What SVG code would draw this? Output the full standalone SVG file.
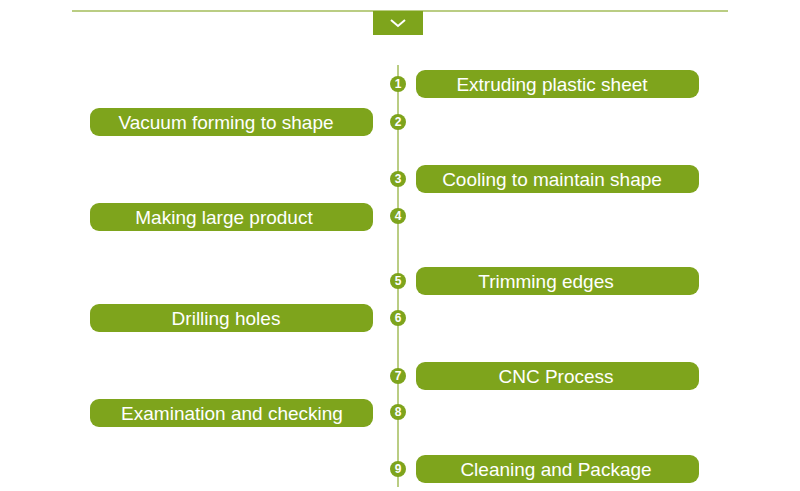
<svg xmlns="http://www.w3.org/2000/svg" width="800" height="491" viewBox="0 0 800 491">
<style>
.p{fill:#7ea41c}
.t{fill:#fff;font-family:"Liberation Sans",Arial,sans-serif;font-size:19px;text-anchor:middle}
.n{fill:#fff;font-family:"Liberation Sans",Arial,sans-serif;font-size:12px;font-weight:bold;text-anchor:middle}
.l{stroke:#a3bd5a;stroke-width:1.5;fill:none}
</style>
<rect width="800" height="491" fill="#fff"/>
<g id="connectors">
<line class="l" x1="72" y1="11" x2="728" y2="11"/>
<line class="l" x1="398" y1="65" x2="398" y2="487"/>
</g>
<g id="toggle"><rect x="373" y="11" width="50" height="24" class="p"/><path d="M391 20 L398 26 L405 20" stroke="#fff" stroke-width="2" fill="none"/></g>
<g id="s1"><circle cx="398" cy="84" r="8" class="p"/><text class="n" x="398" y="88">1</text><rect x="416" y="70" width="283" height="28" rx="9" class="p"/><text class="t" x="552" y="91">Extruding plastic sheet</text></g>
<g id="s2"><circle cx="398" cy="122" r="8" class="p"/><text class="n" x="398" y="126">2</text><rect x="90" y="108" width="283" height="28" rx="9" class="p"/><text class="t" x="226" y="129">Vacuum forming to shape</text></g>
<g id="s3"><circle cx="398" cy="179" r="8" class="p"/><text class="n" x="398" y="183">3</text><rect x="416" y="165" width="283" height="28" rx="9" class="p"/><text class="t" x="552" y="186">Cooling to maintain shape</text></g>
<g id="s4"><circle cx="398" cy="216" r="8" class="p"/><text class="n" x="398" y="220">4</text><rect x="90" y="203" width="283" height="28" rx="9" class="p"/><text class="t" x="224" y="224">Making large product</text></g>
<g id="s5"><circle cx="398" cy="281" r="8" class="p"/><text class="n" x="398" y="285">5</text><rect x="416" y="267" width="283" height="28" rx="9" class="p"/><text class="t" x="546" y="288">Trimming edges</text></g>
<g id="s6"><circle cx="398" cy="318" r="8" class="p"/><text class="n" x="398" y="322">6</text><rect x="90" y="304" width="283" height="28" rx="9" class="p"/><text class="t" x="226" y="325">Drilling holes</text></g>
<g id="s7"><circle cx="398" cy="376" r="8" class="p"/><text class="n" x="398" y="380">7</text><rect x="416" y="362" width="283" height="28" rx="9" class="p"/><text class="t" x="556" y="383">CNC Process</text></g>
<g id="s8"><circle cx="398" cy="412" r="8" class="p"/><text class="n" x="398" y="416">8</text><rect x="90" y="399" width="283" height="28" rx="9" class="p"/><text class="t" x="232" y="420">Examination and checking</text></g>
<g id="s9"><circle cx="398" cy="469" r="8" class="p"/><text class="n" x="398" y="473">9</text><rect x="416" y="455" width="283" height="28" rx="9" class="p"/><text class="t" x="556" y="476">Cleaning and Package</text></g>
</svg>
